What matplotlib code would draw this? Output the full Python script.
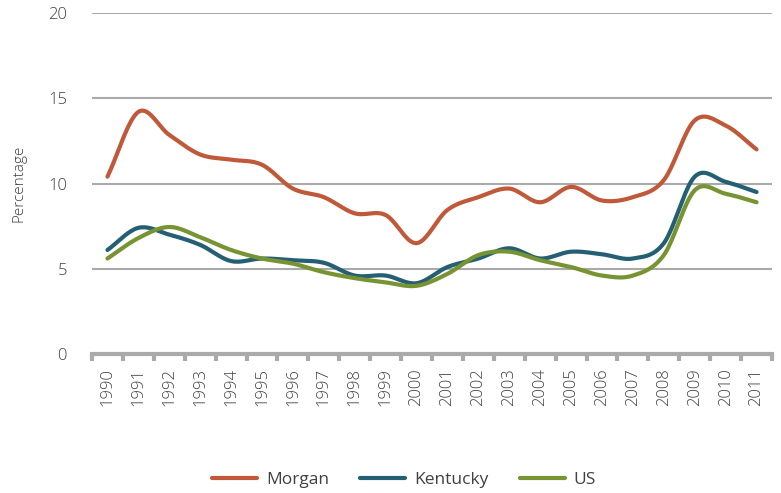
import numpy as np
import matplotlib.pyplot as plt
from matplotlib.ticker import FixedLocator

years = [str(y) for y in range(1990, 2012)]
morgan = [10.4, 14.2, 12.85, 11.7, 11.4, 11.1, 9.7, 9.2, 8.25, 8.15, 6.5,
          8.45, 9.2, 9.7, 8.9, 9.8, 9.0, 9.2, 10.2, 13.7, 13.4, 12.0]
kentucky = [6.1, 7.4, 7.0, 6.4, 5.45, 5.6, 5.5, 5.35, 4.6, 4.6, 4.15,
            5.1, 5.6, 6.2, 5.6, 6.0, 5.85, 5.6, 6.5, 10.4, 10.1, 9.5]
us = [5.6, 6.8, 7.45, 6.85, 6.1, 5.6, 5.3, 4.8, 4.45, 4.2, 4.0,
      4.7, 5.8, 6.0, 5.5, 5.1, 4.6, 4.6, 5.8, 9.6, 9.4, 8.9]

plt.rcParams['font.family'] = ['Open Sans', 'DejaVu Sans']


def smooth(y, n=20):
    # catmull-rom curve through the points, like excel's smoothed lines
    y = np.asarray(y, float)
    p = np.concatenate([[2 * y[0] - y[1]], y, [2 * y[-1] - y[-2]]])
    xs, ys = [], []
    for i in range(len(y) - 1):
        t = np.linspace(0, 1, n, endpoint=False)
        p0, p1, p2, p3 = p[i], p[i + 1], p[i + 2], p[i + 3]
        v = 0.5 * (2 * p1 + (-p0 + p2) * t + (2 * p0 - 5 * p1 + 4 * p2 - p3) * t**2
                   + (-p0 + 3 * p1 - 3 * p2 + p3) * t**3)
        xs.append(i + t)
        ys.append(v)
    xs.append([len(y) - 1])
    ys.append([y[-1]])
    return np.concatenate(xs), np.concatenate(ys)


fig = plt.figure(figsize=(7.81, 4.93), dpi=100)
ax = fig.add_axes([92 / 781, 1 - 354 / 493, 680 / 781, 341 / 493])

series = [("Morgan", morgan, "#C0593A"),
          ("Kentucky", kentucky, "#245F73"),
          ("US", us, "#779332")]
for name, vals, col in series:
    sx, sy = smooth(vals)
    ax.plot(sx, sy, color=col, linewidth=3, solid_capstyle="round", label=name)

ax.set_xlim(-0.5, len(years) - 0.5)
ax.set_ylim(0, 20)
ax.set_yticks([0, 5, 10, 15, 20])
ax.set_xticks(range(len(years)))
ax.set_xticklabels(years, rotation=90, fontsize=12, color="#404040", fontweight="light")
ax.xaxis.set_minor_locator(FixedLocator(np.arange(-0.5, len(years), 1)))
ax.tick_params(axis="x", which="major", length=0, pad=10)
ax.tick_params(axis="x", which="minor", length=5, width=3, color="#AAAAAA")
ax.tick_params(axis="y", length=0, labelsize=12, labelcolor="#404040", pad=18)
for lab in ax.get_yticklabels():
    lab.set_fontweight("light")

ax.grid(axis="y", color="#AAAAAA", linewidth=1.5)
ax.set_axisbelow(True)
for s in ["top", "right", "left"]:
    ax.spines[s].set_visible(False)
ax.spines["bottom"].set_color("#AAAAAA")
ax.spines["bottom"].set_linewidth(3)

ax.set_ylabel("Percentage", fontsize=11, color="#404040", fontweight="light")
ax.yaxis.set_label_coords(-66 / 680, 0.5)

fig.legend(loc="center", bbox_to_anchor=(404 / 781, 1 - 480 / 493), ncol=3,
           frameon=False, fontsize=12.5, handlelength=2.6, handletextpad=0.5,
           columnspacing=1.8, labelcolor="#404040")

fig.savefig("out.png", dpi=100)
